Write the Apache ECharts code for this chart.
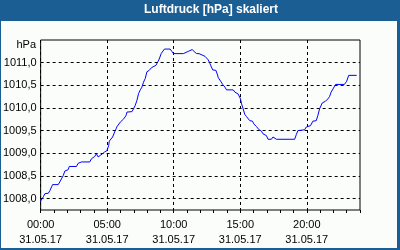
<!DOCTYPE html>
<html>
<head>
<meta charset="utf-8">
<script src="https://cdn.jsdelivr.net/npm/echarts@6/dist/echarts.min.js"></script>
<style>
html,body{margin:0;padding:0;background:#1b5e94;}
#c{width:400px;height:250px;}
</style>
</head>
<body>
<div id="c"></div>
<script>
// Time of day in hours (31.05.17)
var hours = [0.00,0.20,0.32,0.58,0.70,0.82,0.90,1.32,1.44,1.57,1.70,1.82,2.07,2.15,2.69,2.82,3.07,3.69,3.82,4.06,4.19,4.32,4.44,4.64,4.81,4.98,5.11,5.16,5.31,5.41,5.56,5.67,5.74,5.99,6.24,6.41,6.49,6.86,6.98,7.11,7.24,7.36,7.49,7.61,7.73,7.86,7.99,8.16,8.33,8.48,8.66,8.81,8.91,9.06,9.15,9.30,9.73,9.86,9.98,10.73,11.10,11.23,11.40,11.55,11.73,11.90,12.05,12.35,12.60,12.72,12.93,13.17,13.27,13.35,13.53,13.68,13.85,13.97,14.47,14.60,14.84,14.97,15.02,15.10,15.22,15.34,15.47,15.59,15.72,15.92,16.02,16.22,16.41,16.59,16.71,16.84,16.97,17.09,17.34,17.46,17.59,17.72,19.09,19.21,19.33,19.84,19.96,20.28,20.46,20.71,20.83,20.96,21.16,21.41,21.58,21.71,21.83,22.01,22.16,22.83,23.00,23.15,23.75];
// Air pressure in hPa
var pressure = [1007.95,1008.04,1008.11,1008.12,1008.18,1008.26,1008.31,1008.31,1008.37,1008.40,1008.51,1008.61,1008.64,1008.71,1008.71,1008.78,1008.81,1008.81,1008.88,1008.93,1008.99,1008.92,1008.92,1008.99,1009.03,1009.06,1009.17,1009.27,1009.30,1009.36,1009.47,1009.54,1009.59,1009.69,1009.76,1009.83,1009.91,1009.92,1009.98,1010.06,1010.17,1010.32,1010.40,1010.46,1010.57,1010.65,1010.80,1010.83,1010.89,1010.93,1010.94,1011.02,1011.08,1011.20,1011.24,1011.30,1011.30,1011.25,1011.20,1011.20,1011.25,1011.29,1011.29,1011.24,1011.20,1011.20,1011.16,1011.14,1011.06,1010.98,1010.84,1010.83,1010.75,1010.67,1010.59,1010.52,1010.46,1010.40,1010.40,1010.35,1010.31,1010.28,1010.20,1010.09,1009.98,1009.86,1009.81,1009.78,1009.72,1009.71,1009.65,1009.59,1009.52,1009.49,1009.43,1009.39,1009.39,1009.31,1009.31,1009.36,1009.39,1009.31,1009.31,1009.41,1009.50,1009.52,1009.58,1009.61,1009.71,1009.72,1009.83,1009.98,1010.11,1010.15,1010.20,1010.25,1010.35,1010.44,1010.52,1010.52,1010.59,1010.72,1010.72];
var xLabelHours = [0, 5, 10, 15, 20];
var xLabelDates = ['31.05.17','31.05.17','31.05.17','31.05.17','31.05.17'];
var yTicks = [1008.0, 1008.5, 1009.0, 1009.5, 1010.0, 1010.5, 1011.0];
var titleText = 'Luftdruck [hPa] skaliert';
var unitText = 'hPa';

var data = hours.map(function(h, i){ return [h, pressure[i]]; });
function pad(n){ return (n < 10 ? '0' : '') + n; }
var FONT = 'Liberation Sans';

var chart = echarts.init(document.getElementById('c'), null, {renderer:'canvas'});
chart.setOption({
  animation: false,
  backgroundColor: '#1b5e94',
  graphic: [
    {type:'rect', z:-10, shape:{x:1, y:21, width:396, height:227}, style:{fill:'#fbfdfb'}},
    {type:'text', x:211, y:10, style:{text:titleText, fill:'#ffffff', font:'bold 12px "' + FONT + '"', align:'center', verticalAlign:'middle'}},
    {type:'text', x:36, y:45, style:{text:unitText, fill:'#000000', font:'11px "' + FONT + '"', align:'right', verticalAlign:'middle'}}
  ],
  grid: {left:40, top:40, width:320, height:170, show:true, borderColor:'#000', borderWidth:1, backgroundColor:'transparent'},
  xAxis: [{
    type:'value', min:0, max:24,
    axisLine:{show:false},
    axisTick:{show:false, customValues:xLabelHours},
    axisLabel:{customValues:xLabelHours, margin:8, lineHeight:14.5, color:'#000', fontFamily:FONT, fontSize:11,
      formatter:function(v){ var i = xLabelHours.indexOf(v); return pad(v) + ':00\n' + (i >= 0 ? xLabelDates[i] : ''); }},
    splitLine:{show:true, lineStyle:{color:'#000', width:1, type:[3,3]}}
  },{
    type:'value', min:0, max:24, interval:1, position:'bottom',
    axisLine:{show:false},
    axisTick:{show:true, length:3, inside:false, lineStyle:{color:'#000'}},
    axisLabel:{show:false},
    splitLine:{show:false}
  }],
  yAxis: {
    type:'value', min:1007.75, max:1011.5,
    axisLine:{show:false},
    axisTick:{show:false, customValues:yTicks},
    axisLabel:{customValues:yTicks, margin:4, color:'#000', fontFamily:FONT, fontSize:11,
      formatter:function(v){ return v.toFixed(1).replace('.', ','); }},
    splitLine:{show:true, lineStyle:{color:'#000', width:1, type:[3,3]}}
  },
  series: [{
    type:'line', xAxisIndex:0, data:data, showSymbol:false, symbol:'none',
    lineStyle:{color:'#0000ff', width:1}
  }]
});
</script>
</body>
</html>
